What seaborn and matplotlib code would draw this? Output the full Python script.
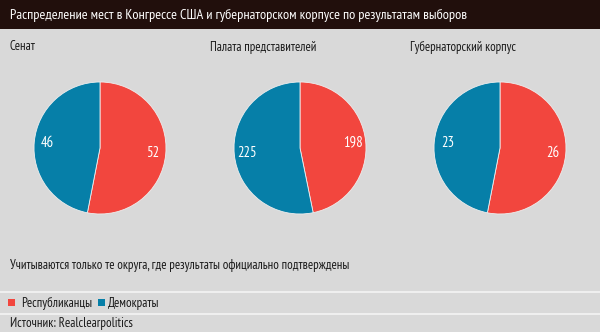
import matplotlib
matplotlib.use("Agg")
import matplotlib.pyplot as plt
import seaborn as sns
import numpy as np
from matplotlib.patches import Rectangle
from matplotlib.lines import Line2D

sns.set_theme(style="white")
FONT = ['PT Sans Narrow', 'Roboto Condensed', 'DejaVu Sans']
plt.rcParams['font.family'] = FONT

title = "Распределение мест в Конгрессе США и губернаторском корпусе по результатам выборов"
panels = ["Сенат", "Палата представителей", "Губернаторский корпус"]
republicans = [52, 198, 26]
democrats = [46, 225, 23]
parties = ["Республиканцы", "Демократы"]
note = "Учитываются только те округа, где результаты официально подтверждены"
source = "Источник: Realclearpolitics"

RED = "#f2463e"
BLUE = "#067fa8"
BG = "#d9d9d9"
BAR = "#210f0c"
TXT = "#1a1a1a"

W, H = 600, 332
fig = plt.figure(figsize=(W / 100, H / 100), dpi=100, facecolor=BG)

def fx(x): return x / W
def fy(y): return 1 - y / H

# title bar
fig.patches.append(Rectangle((0, fy(29)), 1, 29 / H, transform=fig.transFigure,
                             facecolor=BAR, edgecolor='none', zorder=0))
fig.text(fx(10), fy(15), title, color='white', fontsize=10.3, va='center', ha='left')

centers = [100, 300, 500]
R = 66
CY = 148
for i, (name, r, d) in enumerate(zip(panels, republicans, democrats)):
    fig.text(fx(centers[i] - 90), fy(47), name, color=TXT, fontsize=9.2, va='center', ha='left')
    ax = fig.add_axes([fx(centers[i] - R), fy(CY + R), 2 * R / W, 2 * R / H])
    ax.set_facecolor('none')
    vals = [r, d]
    ax.pie(vals, colors=[RED, BLUE], startangle=90, counterclock=False,
           radius=1, wedgeprops=dict(edgecolor='#eeeeee', linewidth=0.6))
    tot = sum(vals)
    ang = 90.0
    for v in vals:
        sweep = v / tot * 360
        mid = np.deg2rad(ang - sweep / 2)
        ax.text(0.8 * np.cos(mid), 0.8 * np.sin(mid), str(v), color='white',
                fontsize=10.5, ha='center', va='center')
        ang -= sweep
    ax.set_xlim(-1, 1)
    ax.set_ylim(-1, 1)
    ax.set_aspect('equal')
    ax.axis('off')

fig.text(fx(10), fy(266), note, color=TXT, fontsize=9.3, va='center', ha='left')

for yy in (292, 314):
    fig.lines.append(Line2D([0, 1], [fy(yy), fy(yy)], transform=fig.transFigure,
                            color='#f4f4f4', linewidth=1.2))

leg_x = [8, 98]
for x, lab, col in zip(leg_x, parties, [RED, BLUE]):
    fig.patches.append(Rectangle((fx(x), fy(306)), 7 / W, 7 / H, transform=fig.transFigure,
                                 facecolor=col, edgecolor='none'))
    fig.text(fx(x + 13 if x < 50 else x + 10), fy(303), lab, color=TXT, fontsize=9.3,
             va='center', ha='left')

fig.text(fx(10), fy(323), source, color=TXT, fontsize=9.4, va='center', ha='left')

fig.savefig("out.png", dpi=100, facecolor=BG)
